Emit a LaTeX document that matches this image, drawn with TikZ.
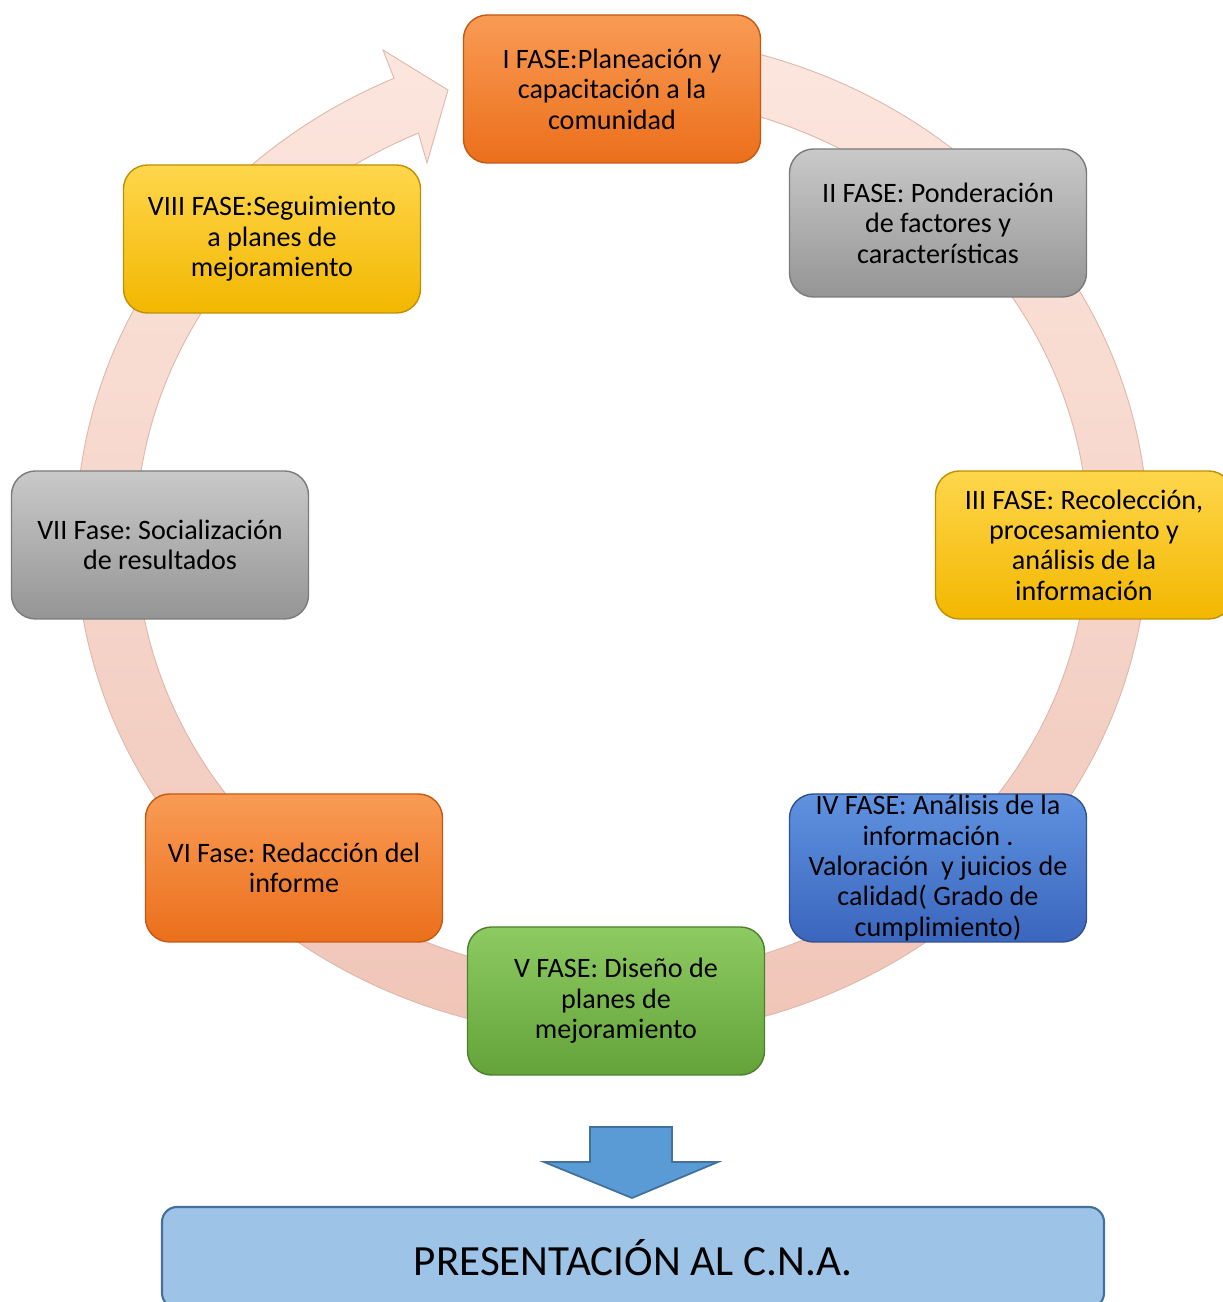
\documentclass[tikz,border=0pt]{standalone}
\usepackage{fontspec}
\setmainfont{Carlito}
\frenchspacing
\usetikzlibrary{positioning,calc}
\definecolor{CyRingTop}{HTML}{FCE6DE}
\definecolor{CyRingBot}{HTML}{EFC4B6}
\definecolor{CyRingLine}{HTML}{DDB7AA}
\definecolor{CyOrangeTop}{HTML}{F99B55}
\definecolor{CyOrangeBot}{HTML}{EB6F1B}
\definecolor{CyOrangeLine}{HTML}{C65911}
\definecolor{CyGrayTop}{HTML}{C9C9C9}
\definecolor{CyGrayBot}{HTML}{959595}
\definecolor{CyGrayLine}{HTML}{7B7B7B}
\definecolor{CyYellowTop}{HTML}{FFD64C}
\definecolor{CyYellowBot}{HTML}{F2B700}
\definecolor{CyYellowLine}{HTML}{C09000}
\definecolor{CyBlueTop}{HTML}{6092E0}
\definecolor{CyBlueBot}{HTML}{3A66BD}
\definecolor{CyBlueLine}{HTML}{2F528F}
\definecolor{CyGreenTop}{HTML}{8DCB62}
\definecolor{CyGreenBot}{HTML}{64A33A}
\definecolor{CyGreenLine}{HTML}{4E7F2D}
\definecolor{CyArrow}{HTML}{5B9BD5}
\definecolor{CyPanel}{HTML}{9DC3E6}
\definecolor{CyEdge}{HTML}{41719C}
\tikzset{
  phase/.style={draw,line width=0.8pt,rounded corners=4.8mm,minimum width=5.94cm,
                minimum height=2.96cm,inner xsep=1mm,inner ysep=0mm,align=center,
                text=black,font=\fontsize{16}{17.3}\selectfont},
  phaseorange/.style={phase,draw=CyOrangeLine,top color=CyOrangeTop,bottom color=CyOrangeBot},
  phasegray/.style={phase,draw=CyGrayLine,top color=CyGrayTop,bottom color=CyGrayBot},
  phaseyellow/.style={phase,draw=CyYellowLine,top color=CyYellowTop,bottom color=CyYellowBot},
  phaseblue/.style={phase,draw=CyBlueLine,top color=CyBlueTop,bottom color=CyBlueBot},
  phasegreen/.style={phase,draw=CyGreenLine,top color=CyGreenTop,bottom color=CyGreenBot},
  ring/.style={draw=CyRingLine,line width=0.5pt,top color=CyRingTop,bottom color=CyRingBot},
  blockarrow/.style={draw=CyEdge,line width=1pt,fill=CyArrow,line join=miter},
  result/.style={draw=CyEdge,line width=1.2pt,fill=CyPanel,rounded corners=3mm,
                 minimum width=18.84cm,minimum height=2.02cm,text=black,
                 font=\fontsize{24.5}{29}\selectfont},
}
\begin{document}
\begin{tikzpicture}[x=1cm,y=1cm]
  \useasboundingbox (0,0) rectangle (24.44,26.04);

  \coordinate (hub) at (12.24,15.32);
  \begin{scope}[shift={(hub)}]
    \path[ring] (80:10.72 and 10.02)
      arc[start angle=80,end angle=-246,x radius=10.72,y radius=10.02]
      -- (-4.58,9.72) -- (-3.28,8.92) -- (-3.70,7.46)
      -- (114:9.52 and 8.82)
      arc[start angle=-246,end angle=80,x radius=9.52,y radius=8.82] -- cycle;
  \end{scope}

  \node[phaseorange] (f1) at (12.24,24.26) {I FASE:Planeación y\\capacitación a la\\comunidad};
  \node[phasegray] (f2) at (18.76,21.58) {II FASE: Ponderación\\de factores y\\características};
  \node[phaseyellow] (f3) at (21.68,15.14) {III FASE: Recolección,\\procesamiento y\\análisis de la\\información};
  \node[phaseblue] (f4) at (18.76,8.68) {IV FASE: Análisis de la\\información .\\Valoración~ y juicios de\\calidad( Grado de\\cumplimiento)};
  \node[phasegreen] (f5) at (12.32,6.02) {V FASE: Diseño de\\planes de\\mejoramiento};
  \node[phaseorange] (f6) at (5.88,8.68) {VI Fase: Redacción del\\informe};
  \node[phasegray] (f7) at (3.20,15.14) {VII Fase: Socialización\\de resultados};
  \node[phaseyellow] (f8) at (5.44,21.26) {VIII FASE:Seguimiento\\a planes de\\mejoramiento};

  \draw[blockarrow] (11.80,3.50) -- (13.44,3.50) -- (13.44,2.80) -- (14.36,2.80)
    -- (12.64,2.08) -- (10.88,2.80) -- (11.80,2.80) -- cycle;

  \node[result] (cna) at (12.66,0.89) {PRESENTACIÓN AL C.N.A.};
\end{tikzpicture}
\end{document}
